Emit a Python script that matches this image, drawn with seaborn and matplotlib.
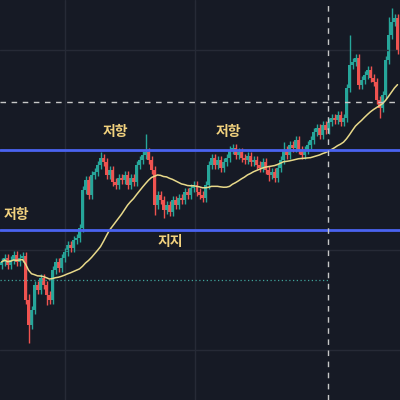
import numpy as np
import pandas as pd
import matplotlib
matplotlib.use("Agg")
import matplotlib.pyplot as plt
import seaborn as sns

# closing prices (chart units, higher = up)
close = [138, 142, 135, 140, 145, 138, 142, 144, 100, 75, 90, 115, 110, 122, 115, 105,
         100, 130, 138, 132, 142, 148, 155, 152, 160, 162, 172, 210, 220, 205, 225, 228,
         235, 242, 238, 225, 230, 218, 215, 222, 220, 225, 215, 222, 218, 235, 240, 245,
         248, 240, 230, 195, 205, 200, 190, 195, 188, 200, 195, 202, 200, 208, 205, 212,
         215, 208, 205, 202, 215, 235, 242, 235, 240, 232, 238, 242, 250, 252, 245, 248,
         242, 240, 244, 238, 240, 235, 232, 238, 230, 225, 228, 222, 232, 240, 250, 245,
         255, 252, 260, 250, 245, 250, 255, 260, 268, 272, 265, 275, 270, 278, 282, 280,
         285, 278, 282, 312, 335, 338, 342, 315, 320, 325, 330, 322, 318, 300, 292, 305,
         340, 365, 378, 382, 350]
open_first = 135
# wick extensions beyond the candle body (default 4)
high_extra = {9: 6, 48: 18, 33: 6, 116: 30, 129: 18, 130: 14, 94: 8}
low_extra = {9: 18, 15: 10, 51: 10, 54: 8, 126: 10, 89: 6}

support = 170
resistance = 250
dotted_level = 120
labels = [("저항", 115, 268), ("저항", 228, 268), ("저항", 16, 185), ("지지", 170, 158)]

n = len(close)
df = pd.DataFrame({"x": np.arange(n) * 3 + 1.5, "close": close})
df["open"] = [open_first] + close[:-1]
df["high"] = [max(o, c) + high_extra.get(i, 4) for i, (o, c) in enumerate(zip(df["open"], df["close"]))]
df["low"] = [min(o, c) - low_extra.get(i, 4) for i, (o, c) in enumerate(zip(df["open"], df["close"]))]
df["ma"] = df["close"].rolling(26, min_periods=1).mean()

bg = "#161a25"
sns.set_style("dark", {"axes.facecolor": bg, "figure.facecolor": bg})
plt.rcParams["font.family"] = ["Noto Sans CJK KR", "DejaVu Sans"]

fig = plt.figure(figsize=(4, 4), dpi=100)
ax = fig.add_axes([0, 0, 1, 1])
ax.set_facecolor(bg)

for gx in [65, 195]:
    ax.axvline(gx, color="#262a36", lw=1)
for gy in [50, 150, 250, 350]:
    ax.axhline(gy, color="#262a36", lw=1)

up = df["close"] >= df["open"]
colors = np.where(up, "#26a69a", "#ef5350")
ax.vlines(df["x"], df["low"], df["high"], colors=colors, lw=1)
ax.bar(df["x"], (df["close"] - df["open"]).abs().clip(lower=1), bottom=df[["open", "close"]].min(axis=1),
       width=2.6, color=colors, lw=0)

sns.lineplot(data=df, x="x", y="ma", ax=ax, color="#e8d98a", lw=1.1)

ax.axhline(resistance, color="#4a63f0", lw=2)
ax.axhline(support, color="#4a63f0", lw=2)
ax.hlines(dotted_level, 0, 330, color="#3fa39a", lw=0.9, linestyles=(0, (1, 2)))
ax.axvline(328, color="#c8c8c8", lw=1, ls=(0, (4, 4)))
ax.axhline(298, color="#c8c8c8", lw=1, ls=(0, (4, 4)))

for txt, x, y in labels:
    ax.text(x, y, txt, color="#f2d27e", fontsize=10, fontweight="bold", ha="center", va="center")

ax.set_xlim(0, 400)
ax.set_ylim(0, 400)
ax.set_xticks([])
ax.set_yticks([])
for s in ax.spines.values():
    s.set_visible(False)
fig.savefig("out.png", dpi=100, facecolor=bg)
